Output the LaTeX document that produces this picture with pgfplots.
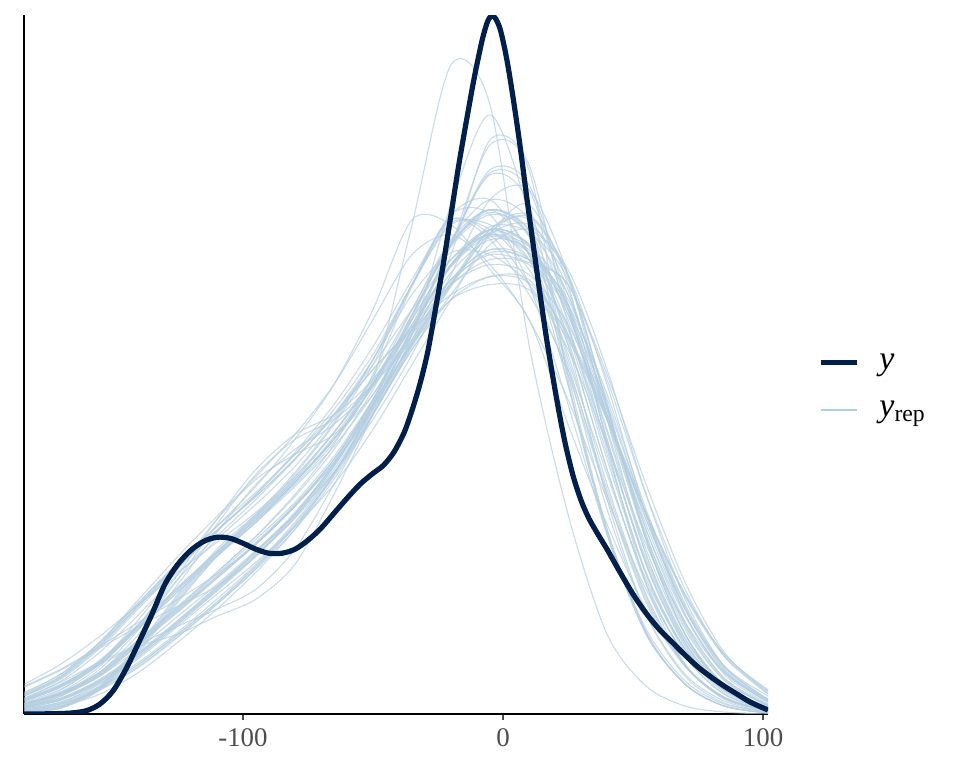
\documentclass[border=0pt]{standalone}
\usepackage{pgfplots}
\pgfplotsset{compat=1.18}
\usepackage{fontspec}
\setmainfont{Liberation Serif}
\definecolor{ydark}{HTML}{011F4B}
\definecolor{ylight}{HTML}{B3CDE0}
\definecolor{ticktext}{HTML}{4D4D4D}
\begin{document}
\begin{tikzpicture}
\useasboundingbox (0,0) rectangle (480bp,384bp);
\begin{axis}[
  at={(12bp,27bp)}, anchor=south west,
  scale only axis, width=372bp, height=349.5bp,
  xmin=-184.2, xmax=101.9, ymin=0, ymax=7.0,
  axis x line*=bottom, axis y line*=left,
  axis line style={black, line width=0.9bp, -},
  ytick=\empty,
  xtick={-100,0,100},
  xticklabels={-100,0,100},
  x tick label style={text=ticktext, font=\fontsize{13.5}{15}\selectfont, yshift=-1bp},
  major tick length=3bp,
  tick style={ticktext, line width=0.8bp},
  tick align=outside,
  yrep/.style={ylight, opacity=0.7, line width=0.55bp, smooth, forget plot},
  legend style={draw=none, fill=none, at={(1.067,0.4685)}, anchor=west,
    inner sep=0pt, nodes={inner sep=0pt},
    font=\fontsize{17}{20}\selectfont, row sep=14.5bp,
    /tikz/every odd column/.append style={column sep=10bp}},
  legend cell align=left,
  legend image code/.code={\draw[#1] (0bp,0bp) -- (18bp,0bp);},
]
\addplot[yrep] coordinates {(-184,0.02)(-170,0.06)(-155,0.24)(-140,0.62)(-125,1.12)(-110,1.58)(-95,1.95)(-80,2.32)(-65,2.75)(-50,3.35)(-35,4.9)(-20,6.5)(-5,6.1)(10,3.7)(25,2.0)(40,0.8)(55,0.28)(70,0.08)(85,0.02)(102,0.0)};
\addplot[yrep] coordinates {(-184,0.09)(-170,0.19)(-155,0.38)(-140,0.7)(-125,1.02)(-110,1.36)(-95,1.7)(-80,2.08)(-65,2.52)(-50,3.05)(-35,3.8)(-20,5.1)(-5,6.0)(10,5.0)(25,3.3)(40,1.8)(55,0.8)(70,0.3)(85,0.08)(102,0.01)};
\addplot[yrep] coordinates {(-184,0.07)(-170,0.15)(-155,0.33)(-140,0.6)(-125,0.92)(-110,1.25)(-95,1.6)(-80,1.98)(-65,2.45)(-50,3.05)(-35,3.75)(-20,4.6)(-5,5.75)(10,5.5)(25,3.9)(40,2.7)(55,1.55)(70,0.75)(85,0.28)(102,0.06)};
\addplot[yrep] coordinates {(-184,0.2)(-170,0.38)(-155,0.7)(-140,1.1)(-125,1.5)(-110,1.88)(-95,2.28)(-80,2.75)(-65,3.3)(-50,4.05)(-35,4.95)(-20,4.9)(-5,4.45)(10,3.95)(25,2.9)(40,1.9)(55,1.05)(70,0.48)(85,0.17)(102,0.04)};
\addplot[yrep] coordinates {(-184,0.11)(-170,0.21)(-155,0.42)(-140,0.74)(-125,1.06)(-110,1.4)(-95,1.75)(-80,2.12)(-65,2.58)(-50,3.15)(-35,3.8)(-20,4.7)(-5,5.45)(10,5.3)(25,4.1)(40,2.65)(55,1.4)(70,0.62)(85,0.22)(102,0.05)};
\addplot[yrep] coordinates {(-184,0.14)(-170,0.28)(-155,0.52)(-140,0.88)(-125,1.25)(-110,1.62)(-95,1.98)(-80,2.4)(-65,2.9)(-50,3.5)(-35,4.3)(-20,5.0)(-5,5.0)(10,4.3)(25,3.1)(40,1.8)(55,0.85)(70,0.33)(85,0.1)(102,0.02)};
\addplot[yrep] coordinates {(-184,0.28)(-170,0.45)(-155,0.68)(-140,0.92)(-125,1.15)(-110,1.4)(-95,1.7)(-80,2.08)(-65,2.55)(-50,3.1)(-35,3.7)(-20,4.15)(-5,4.3)(10,4.25)(25,3.75)(40,2.95)(55,2.0)(70,1.2)(85,0.6)(102,0.24)};
\addplot[yrep] coordinates {(-184,0.15)(-170,0.3)(-155,0.5)(-140,0.68)(-125,0.8)(-110,0.98)(-95,1.15)(-80,1.5)(-65,2.2)(-50,3.0)(-35,3.85)(-20,4.5)(-5,4.85)(10,4.7)(25,4.0)(40,3.0)(55,1.95)(70,1.05)(85,0.45)(102,0.13)};
\addplot[yrep] coordinates {(-184,0.03)(-170,0.08)(-155,0.28)(-140,0.7)(-125,1.2)(-110,1.65)(-95,2.0)(-80,2.35)(-65,2.75)(-50,3.3)(-35,3.95)(-20,4.55)(-5,4.85)(10,4.6)(25,3.6)(40,2.3)(55,1.2)(70,0.5)(85,0.17)(102,0.03)};
\addplot[yrep] coordinates {(-184,0.08)(-170,0.2)(-155,0.45)(-140,0.85)(-125,1.35)(-110,1.9)(-95,2.4)(-80,2.75)(-65,2.95)(-50,3.3)(-35,3.75)(-20,4.35)(-5,4.65)(10,4.55)(25,3.85)(40,2.6)(55,1.42)(70,0.65)(85,0.24)(102,0.05)};
\addplot[yrep] coordinates {(-184,0.1)(-170,0.2)(-155,0.4)(-140,0.72)(-125,1.05)(-110,1.38)(-95,1.72)(-80,2.1)(-65,2.55)(-50,3.15)(-35,3.85)(-20,4.5)(-5,4.85)(10,4.7)(25,4.0)(40,2.85)(55,1.65)(70,0.8)(85,0.3)(102,0.07)};
\addplot[yrep] coordinates {(-184,0.04)(-170,0.1)(-155,0.25)(-140,0.48)(-125,0.78)(-110,1.1)(-95,1.45)(-80,1.85)(-65,2.35)(-50,3.0)(-35,3.7)(-20,4.3)(-5,4.85)(10,5.0)(25,4.4)(40,3.1)(55,1.75)(70,0.8)(85,0.28)(102,0.05)};
\addplot[yrep] coordinates {(-184,0.13)(-170,0.27)(-155,0.5)(-140,0.86)(-125,1.22)(-110,1.58)(-95,1.92)(-80,2.32)(-65,2.78)(-50,3.32)(-35,3.95)(-20,4.55)(-5,4.8)(10,4.55)(25,3.45)(40,2.05)(55,1.0)(70,0.4)(85,0.13)(102,0.02)};
\addplot[yrep] coordinates {(-184,0.06)(-170,0.14)(-155,0.32)(-140,0.58)(-125,0.9)(-110,1.23)(-95,1.58)(-80,1.97)(-65,2.48)(-50,3.15)(-35,4.0)(-20,4.7)(-5,5.05)(10,4.85)(25,4.2)(40,3.05)(55,1.85)(70,0.92)(85,0.36)(102,0.09)};
\addplot[yrep] coordinates {(-184,0.19)(-170,0.36)(-155,0.68)(-140,1.08)(-125,1.48)(-110,1.84)(-95,2.2)(-80,2.6)(-65,3.05)(-50,3.6)(-35,4.3)(-20,4.9)(-5,4.9)(10,4.55)(25,4.1)(40,3.2)(55,2.05)(70,1.1)(85,0.48)(102,0.15)};
\addplot[yrep] coordinates {(-184,0.1)(-170,0.21)(-155,0.41)(-140,0.73)(-125,1.07)(-110,1.42)(-95,1.78)(-80,2.18)(-65,2.65)(-50,3.25)(-35,4.0)(-20,4.7)(-5,5.05)(10,4.6)(25,3.3)(40,1.85)(55,0.82)(70,0.3)(85,0.08)(102,0.01)};
\addplot[yrep] coordinates {(-184,0.05)(-170,0.11)(-155,0.27)(-140,0.5)(-125,0.8)(-110,1.12)(-95,1.48)(-80,1.88)(-65,2.38)(-50,3.0)(-35,3.65)(-20,4.2)(-5,4.7)(10,4.85)(25,4.45)(40,3.45)(55,2.2)(70,1.15)(85,0.48)(102,0.14)};
\addplot[yrep] coordinates {(-184,0.21)(-170,0.4)(-155,0.72)(-140,1.12)(-125,1.5)(-110,1.84)(-95,2.18)(-80,2.55)(-65,3.0)(-50,3.5)(-35,4.05)(-20,4.55)(-5,4.8)(10,4.62)(25,3.8)(40,2.55)(55,1.4)(70,0.65)(85,0.24)(102,0.05)};
\addplot[yrep] coordinates {(-184,0.07)(-170,0.16)(-155,0.34)(-140,0.61)(-125,0.93)(-110,1.27)(-95,1.62)(-80,2.0)(-65,2.48)(-50,3.08)(-35,3.8)(-20,4.42)(-5,4.75)(10,4.65)(25,4.1)(40,3.0)(55,1.85)(70,0.98)(85,0.42)(102,0.12)};
\addplot[yrep] coordinates {(-184,0.1)(-170,0.2)(-155,0.39)(-140,0.7)(-125,1.03)(-110,1.36)(-95,1.7)(-80,2.08)(-65,2.52)(-50,3.08)(-35,3.72)(-20,4.32)(-5,4.85)(10,4.95)(25,4.25)(40,3.0)(55,1.78)(70,0.9)(85,0.36)(102,0.09)};
\addplot[yrep] coordinates {(-184,0.15)(-170,0.29)(-155,0.54)(-140,0.9)(-125,1.27)(-110,1.63)(-95,2.0)(-80,2.42)(-65,2.92)(-50,3.55)(-35,4.3)(-20,4.95)(-5,4.8)(10,4.3)(25,3.4)(40,2.2)(55,1.15)(70,0.48)(85,0.16)(102,0.03)};
\addplot[yrep] coordinates {(-184,0.04)(-170,0.1)(-155,0.26)(-140,0.5)(-125,0.8)(-110,1.12)(-95,1.48)(-80,1.9)(-65,2.4)(-50,3.05)(-35,3.75)(-20,4.35)(-5,4.65)(10,4.55)(25,4.3)(40,3.4)(55,2.3)(70,1.32)(85,0.62)(102,0.2)};
\addplot[yrep] coordinates {(-184,0.27)(-170,0.44)(-155,0.66)(-140,0.88)(-125,1.08)(-110,1.28)(-95,1.58)(-80,2.0)(-65,2.52)(-50,3.15)(-35,3.85)(-20,4.48)(-5,4.82)(10,4.68)(25,3.88)(40,2.7)(55,1.52)(70,0.72)(85,0.26)(102,0.06)};
\addplot[yrep] coordinates {(-184,0.02)(-170,0.07)(-155,0.26)(-140,0.66)(-125,1.16)(-110,1.6)(-95,1.95)(-80,2.3)(-65,2.72)(-50,3.3)(-35,4.05)(-20,4.75)(-5,5.05)(10,4.8)(25,3.75)(40,2.45)(55,1.32)(70,0.58)(85,0.2)(102,0.04)};
\addplot[yrep] coordinates {(-184,0.14)(-170,0.28)(-155,0.52)(-140,0.88)(-125,1.25)(-110,1.6)(-95,1.95)(-80,2.35)(-65,2.82)(-50,3.38)(-35,4.05)(-20,4.72)(-5,5.05)(10,4.85)(25,3.95)(40,2.95)(55,1.9)(70,1.0)(85,0.42)(102,0.12)};
\addplot[yrep] coordinates {(-184,0.22)(-170,0.4)(-155,0.72)(-140,1.12)(-125,1.52)(-110,1.88)(-95,2.22)(-80,2.6)(-65,3.0)(-50,3.45)(-35,3.85)(-20,4.2)(-5,4.38)(10,4.32)(25,3.8)(40,2.98)(55,2.02)(70,1.2)(85,0.6)(102,0.23)};
\addplot[yrep] coordinates {(-184,0.07)(-170,0.15)(-155,0.33)(-140,0.6)(-125,0.92)(-110,1.26)(-95,1.62)(-80,2.0)(-65,2.5)(-50,3.1)(-35,3.82)(-20,4.7)(-5,5.4)(10,5.1)(25,3.4)(40,1.85)(55,0.82)(70,0.3)(85,0.08)(102,0.01)};
\addplot[yrep] coordinates {(-184,0.13)(-170,0.27)(-155,0.5)(-140,0.86)(-125,1.23)(-110,1.58)(-95,1.93)(-80,2.32)(-65,2.76)(-50,3.28)(-35,3.8)(-20,4.3)(-5,4.55)(10,4.5)(25,4.05)(40,3.1)(55,2.0)(70,1.08)(85,0.47)(102,0.14)};
\addplot[yrep] coordinates {(-184,0.03)(-170,0.09)(-155,0.24)(-140,0.47)(-125,0.77)(-110,1.1)(-95,1.46)(-80,1.88)(-65,2.4)(-50,3.08)(-35,3.85)(-20,4.5)(-5,4.88)(10,4.82)(25,4.35)(40,3.08)(55,1.75)(70,0.8)(85,0.28)(102,0.05)};
\addplot[yrep] coordinates {(-184,0.11)(-170,0.22)(-155,0.42)(-140,0.75)(-125,1.08)(-110,1.42)(-95,1.78)(-80,2.2)(-65,2.7)(-50,3.4)(-35,4.28)(-20,4.92)(-5,4.85)(10,4.45)(25,3.7)(40,2.45)(55,1.3)(70,0.58)(85,0.2)(102,0.04)};
\addplot[yrep] coordinates {(-184,0.09)(-170,0.22)(-155,0.48)(-140,0.9)(-125,1.4)(-110,1.95)(-95,2.45)(-80,2.8)(-65,3.0)(-50,3.35)(-35,3.88)(-20,4.5)(-5,4.8)(10,4.68)(25,4.2)(40,3.05)(55,1.8)(70,0.88)(85,0.34)(102,0.08)};
\addplot[yrep] coordinates {(-184,0.08)(-170,0.16)(-155,0.35)(-140,0.62)(-125,0.94)(-110,1.28)(-95,1.63)(-80,2.02)(-65,2.5)(-50,3.12)(-35,3.98)(-20,4.68)(-5,5.0)(10,4.78)(25,3.55)(40,2.4)(55,1.35)(70,0.65)(85,0.26)(102,0.07)};
\addplot[yrep] coordinates {(-184,0.2)(-170,0.37)(-155,0.69)(-140,1.09)(-125,1.49)(-110,1.84)(-95,2.18)(-80,2.56)(-65,2.98)(-50,3.45)(-35,3.88)(-20,4.35)(-5,4.6)(10,4.52)(25,4.3)(40,3.35)(55,2.2)(70,1.25)(85,0.58)(102,0.2)};
\addplot[yrep] coordinates {(-184,0.02)(-170,0.06)(-155,0.25)(-140,0.64)(-125,1.14)(-110,1.58)(-95,1.92)(-80,2.28)(-65,2.68)(-50,3.2)(-35,3.85)(-20,4.72)(-5,5.42)(10,5.25)(25,4.05)(40,2.82)(55,1.6)(70,0.76)(85,0.28)(102,0.06)};
\addplot[yrep] coordinates {(-184,0.15)(-170,0.29)(-155,0.53)(-140,0.9)(-125,1.27)(-110,1.62)(-95,1.97)(-80,2.37)(-65,2.82)(-50,3.35)(-35,3.9)(-20,4.48)(-5,4.78)(10,4.62)(25,4.1)(40,2.75)(55,1.5)(70,0.7)(85,0.26)(102,0.06)};
\addplot[yrep] coordinates {(-184,0.1)(-170,0.2)(-155,0.4)(-140,0.71)(-125,1.04)(-110,1.37)(-95,1.71)(-80,2.09)(-65,2.55)(-50,3.12)(-35,3.72)(-20,4.32)(-5,4.62)(10,4.55)(25,4.15)(40,3.15)(55,2.0)(70,1.05)(85,0.44)(102,0.12)};
\addplot[yrep] coordinates {(-184,0.05)(-170,0.12)(-155,0.28)(-140,0.52)(-125,0.82)(-110,1.15)(-95,1.5)(-80,1.92)(-65,2.42)(-50,3.02)(-35,3.65)(-20,4.15)(-5,4.38)(10,4.35)(25,3.78)(40,2.95)(55,2.0)(70,1.18)(85,0.58)(102,0.22)};
\addplot[yrep] coordinates {(-184,0.18)(-170,0.35)(-155,0.66)(-140,1.06)(-125,1.46)(-110,1.83)(-95,2.2)(-80,2.62)(-65,3.1)(-50,3.68)(-35,4.35)(-20,4.95)(-5,4.75)(10,4.2)(25,3.45)(40,2.25)(55,1.18)(70,0.49)(85,0.16)(102,0.03)};
\addplot[yrep] coordinates {(-184,0.06)(-170,0.14)(-155,0.31)(-140,0.58)(-125,0.9)(-110,1.24)(-95,1.59)(-80,1.96)(-65,2.42)(-50,3.0)(-35,3.68)(-20,4.28)(-5,4.82)(10,4.98)(25,4.38)(40,3.1)(55,1.75)(70,0.8)(85,0.28)(102,0.05)};
\addplot[yrep] coordinates {(-184,0.07)(-170,0.18)(-155,0.42)(-140,0.8)(-125,1.3)(-110,1.82)(-95,2.3)(-80,2.65)(-65,2.9)(-50,3.3)(-35,4.0)(-20,4.7)(-5,5.02)(10,4.78)(25,3.7)(40,2.15)(55,1.0)(70,0.38)(85,0.11)(102,0.02)};
\addplot[yrep] coordinates {(-184,0.16)(-170,0.32)(-155,0.52)(-140,0.7)(-125,0.88)(-110,1.05)(-95,1.25)(-80,1.65)(-65,2.3)(-50,3.0)(-35,3.7)(-20,4.3)(-5,4.8)(10,4.9)(25,4.4)(40,3.3)(55,2.0)(70,1.0)(85,0.4)(102,0.1)};
\addplot[yrep] coordinates {(-184,0.02)(-170,0.07)(-155,0.27)(-140,0.68)(-125,1.18)(-110,1.62)(-95,1.98)(-80,2.33)(-65,2.75)(-50,3.28)(-35,3.9)(-20,4.7)(-5,5.7)(10,5.45)(25,3.35)(40,1.82)(55,0.8)(70,0.3)(85,0.08)(102,0.01)};
\addplot[yrep] coordinates {(-184,0.05)(-170,0.12)(-155,0.3)(-140,0.56)(-125,0.88)(-110,1.2)(-95,1.52)(-80,1.88)(-65,2.3)(-50,2.85)(-35,3.5)(-20,4.15)(-5,4.8)(10,5.1)(25,4.3)(40,2.7)(55,1.3)(70,0.5)(85,0.15)(102,0.03)};
\addplot[yrep] coordinates {(-184,0.16)(-170,0.33)(-155,0.62)(-140,1.0)(-125,1.4)(-110,1.78)(-95,2.15)(-80,2.55)(-65,3.0)(-50,3.55)(-35,4.2)(-20,4.62)(-5,4.6)(10,4.3)(25,3.65)(40,2.7)(55,1.7)(70,0.92)(85,0.42)(102,0.14)};
\addplot[yrep] coordinates {(-184,0.12)(-170,0.25)(-155,0.5)(-140,0.9)(-125,1.35)(-110,1.75)(-95,2.1)(-80,2.48)(-65,2.95)(-50,3.55)(-35,4.3)(-20,5.0)(-5,5.15)(10,4.6)(25,3.5)(40,2.2)(55,1.12)(70,0.48)(85,0.16)(102,0.03)};
\addplot[yrep] coordinates {(-184,0.03)(-170,0.08)(-155,0.2)(-140,0.42)(-125,0.72)(-110,1.05)(-95,1.42)(-80,1.85)(-65,2.4)(-50,3.1)(-35,3.95)(-20,4.75)(-5,5.15)(10,4.95)(25,4.05)(40,2.75)(55,1.5)(70,0.68)(85,0.24)(102,0.05)};
\addplot[yrep] coordinates {(-184,0.1)(-170,0.24)(-155,0.52)(-140,0.95)(-125,1.45)(-110,1.95)(-95,2.35)(-80,2.6)(-65,2.8)(-50,3.2)(-35,3.85)(-20,4.5)(-5,4.85)(10,4.7)(25,4.05)(40,2.95)(55,1.75)(70,0.85)(85,0.34)(102,0.08)};
\addplot[yrep] coordinates {(-184,0.3)(-170,0.5)(-155,0.78)(-140,1.1)(-125,1.42)(-110,1.72)(-95,2.02)(-80,2.38)(-65,2.82)(-50,3.32)(-35,3.85)(-20,4.3)(-5,4.5)(10,4.4)(25,3.9)(40,3.0)(55,1.95)(70,1.05)(85,0.48)(102,0.18)};
\addplot[yrep] coordinates {(-184,0.08)(-170,0.18)(-155,0.38)(-140,0.66)(-125,0.98)(-110,1.3)(-95,1.64)(-80,2.0)(-65,2.42)(-50,2.95)(-35,3.6)(-20,4.4)(-5,5.15)(10,5.25)(25,4.4)(40,2.95)(55,1.6)(70,0.72)(85,0.26)(102,0.05)};
\addplot[yrep] coordinates {(-184,0.18)(-170,0.38)(-155,0.72)(-140,1.15)(-125,1.58)(-110,1.98)(-95,2.38)(-80,2.8)(-65,3.3)(-50,3.95)(-35,4.6)(-20,4.8)(-5,4.5)(10,3.95)(25,3.15)(40,2.15)(55,1.25)(70,0.6)(85,0.24)(102,0.06)};
% observed y
\addplot[ydark, line width=2.6bp, smooth] coordinates {
(-184.2,0)(-175,0.002)(-166,0.01)(-160,0.035)(-155,0.1)(-150,0.23)(-145,0.45)(-140,0.72)(-135,1.0)(-130,1.3)(-125,1.5)(-120,1.64)(-115,1.73)(-110,1.77)(-105,1.76)(-100,1.71)(-95,1.65)(-90,1.61)(-85,1.61)(-80,1.65)(-75,1.74)(-70,1.86)(-65,2.01)(-60,2.16)(-55,2.3)(-50,2.41)(-46,2.49)(-42,2.62)(-38,2.82)(-35,3.04)(-32,3.3)(-29,3.62)(-26,4.05)(-23,4.5)(-20,5.0)(-17,5.5)(-14,5.95)(-11,6.38)(-8,6.75)(-6,6.93)(-4.5,6.99)(-3,6.97)(-1,6.85)(1.5,6.55)(4,6.15)(6.5,5.7)(9,5.2)(11.5,4.72)(14,4.25)(16.5,3.8)(19,3.4)(21.5,3.03)(24,2.7)(27,2.38)(30,2.14)(33,1.96)(36.5,1.8)(40,1.65)(45,1.42)(50,1.2)(55,1.01)(60,0.85)(65,0.72)(70,0.59)(75,0.47)(80,0.37)(85,0.28)(90,0.2)(95,0.12)(101.9,0.04)};
\addlegendentry{\textit{y}}
\addlegendimage{ylight, line width=0.8bp}
\addlegendentry{\textit{y}\textsubscript{rep}}
\end{axis}
\end{tikzpicture}
\end{document}
